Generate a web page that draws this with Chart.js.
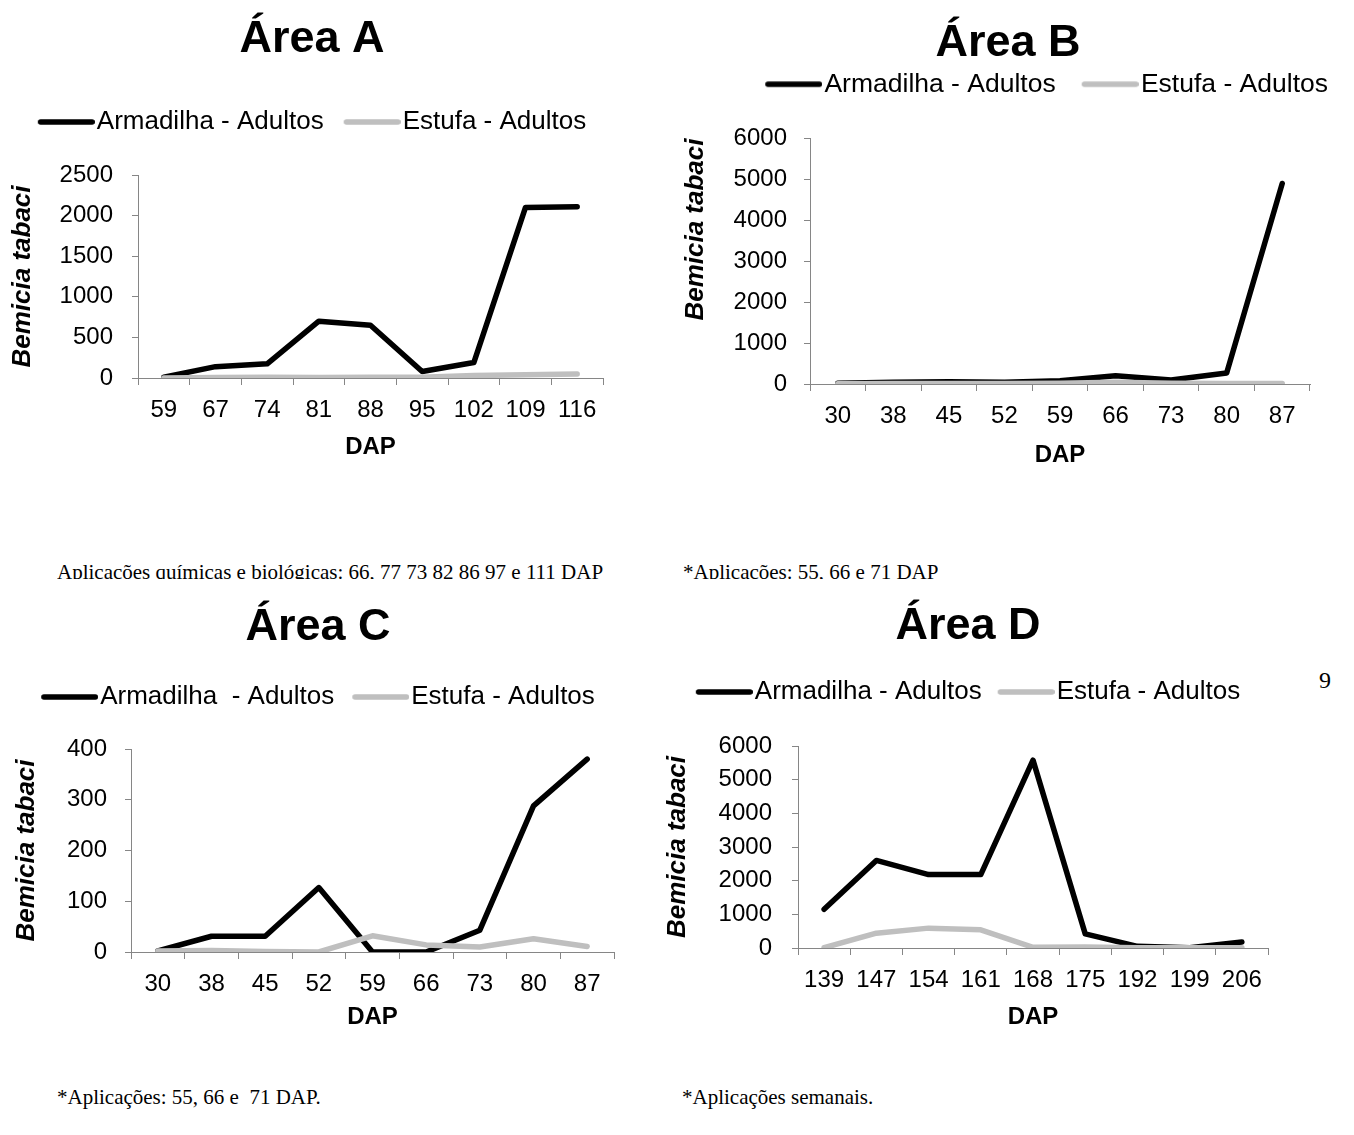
<!DOCTYPE html>
<html><head><meta charset="utf-8">
<script src="https://cdn.jsdelivr.net/npm/chart.js@4.4.1/dist/chart.umd.min.js"></script>
<style>
html,body{margin:0;padding:0;background:#fff;}
body{width:1354px;height:1135px;overflow:hidden;position:relative;}
canvas{position:absolute;}
.note{position:absolute;font-family:"Liberation Serif","Times New Roman",serif;font-size:21px;line-height:24px;color:#000;white-space:pre;}
.clip{overflow:hidden;}
</style></head><body>
<canvas id="cA" width="624" height="470" style="left:0px;top:0px"></canvas>
<canvas id="cB" width="692" height="480" style="left:662px;top:0px"></canvas>
<canvas id="cC" width="636" height="470" style="left:0px;top:580px"></canvas>
<canvas id="cD" width="612" height="470" style="left:662px;top:580px"></canvas>
<div class="note clip" style="left:57px;top:560px;height:19px">Aplicações químicas e biológicas: 66, 77 73 82 86 97 e 111 DAP</div>
<div class="note clip" style="left:683px;top:560px;height:19px">*Aplicações: 55, 66 e 71 DAP</div>
<div class="note" style="left:57px;top:1085px">*Aplicações: 55, 66 e  71 DAP.</div>
<div class="note" style="left:682px;top:1085px">*Aplicações semanais.</div>
<div class="note" style="left:1319px;top:666px;font-size:24px;line-height:28px">9</div>
<script>
// ---- data ----
const titles = ['Área A', 'Área B', 'Área C', 'Área D'];
const seriesArm = 'Armadilha - Adultos';
const seriesArmC = 'Armadilha  - Adultos';
const seriesEst = 'Estufa - Adultos';
const xTitle = 'DAP';
const yTitle = 'Bemicia tabaci';

const catsA = ['59', '67', '74', '81', '88', '95', '102', '109', '116'];
const armA = [10, 140, 175, 700, 650, 80, 190, 2100, 2110];
const estA = [0, 5, 10, 5, 10, 10, 30, 40, 50];

const catsB = ['30', '38', '45', '52', '59', '66', '73', '80', '87'];
const armB = [20, 40, 55, 40, 80, 200, 100, 270, 4900];
const estB = [5, 10, 15, 10, 20, 40, 20, 15, 10];

const catsC = ['30', '38', '45', '52', '59', '66', '73', '80', '87'];
const armC = [2, 31, 31, 127, 0, 0, 43, 288, 380];
const estC = [2, 3, 1, 0, 32, 14, 10, 26, 11];

const catsD = ['139', '147', '154', '161', '168', '175', '192', '199', '206'];
const armD = [1150, 2600, 2180, 2180, 5580, 420, 50, 10, 180];
const estD = [10, 440, 590, 540, 20, 30, 10, 5, 10];

const yMaxA = 2500, yStepA = 500;
const yMaxB = 6000, yStepB = 1000;
const yMaxC = 400, yStepC = 100;
const yMaxD = 6000, yStepD = 1000;

// ---- styling ----
const F = '"Liberation Sans", Arial, sans-serif';
const AX = '#868686';
const BLACK = '#000000';
const GRAY = '#BFBFBF';

function legendLine(color) {
  const c = document.createElement('canvas');
  c.width = 68; c.height = 10;
  const g = c.getContext('2d');
  g.strokeStyle = color; g.lineWidth = 5.5; g.lineCap = 'round';
  g.beginPath(); g.moveTo(13.75, 5); g.lineTo(65.25, 5); g.stroke();
  return c;
}

function makeChart(id, p) {
  return new Chart(document.getElementById(id), {
    type: 'line',
    data: {
      labels: p.cats,
      datasets: [
        {label: p.names[0], data: p.arm, borderColor: BLACK, backgroundColor: BLACK, borderWidth: 5.5,
         pointRadius: 0, tension: 0, borderJoinStyle: 'round', borderCapStyle: 'round', order: 2},
        {label: p.names[1], data: p.est, borderColor: GRAY, backgroundColor: GRAY, borderWidth: 5.5,
         pointRadius: 0, tension: 0, borderJoinStyle: 'round', borderCapStyle: 'round', order: 1}
      ]
    },
    options: {
      responsive: false, animation: false, devicePixelRatio: 1,
      layout: {padding: 0},
      plugins: {
        tooltip: {enabled: false},
        title: {display: true, text: p.title, color: '#000',
          font: {family: F, size: 45, weight: 'bold', lineHeight: 1.2},
          padding: {top: p.tTop, bottom: p.tBot}},
        legend: {display: true, position: 'top', align: p.legAlign,
          labels: {usePointStyle: true, pointStyleWidth: 46, padding: p.legPad, color: '#000',
            font: {family: F, size: p.legFont || 26},
            generateLabels: (chart) => chart.data.datasets.map((ds, i) => ({
              text: ds.label, datasetIndex: i, hidden: false, fontColor: '#000',
              fillStyle: ds.borderColor, strokeStyle: ds.borderColor, lineWidth: 0,
              pointStyle: legendLine(ds.borderColor)
            }))
          }
        }
      },
      scales: {
        x: {type: 'category', offset: true,
          grid: {display: true, offset: true, drawOnChartArea: false, drawTicks: true, tickLength: 7, color: AX, lineWidth: 1},
          border: {display: true, color: AX, width: 1},
          ticks: {color: '#000', font: {family: F, size: 24}, padding: 11, maxRotation: 0, autoSkip: false},
          title: {display: true, text: xTitle, color: '#000', font: {family: F, size: 24, weight: 'bold'},
            padding: {top: 0, bottom: p.xTitlePad}},
          afterFit: (s) => { s.height = p.xH; }
        },
        y: {type: 'linear', min: 0, max: p.yMax,
          ticks: {stepSize: p.yStep, color: '#000', font: {family: F, size: 24}, padding: p.yTickPad,
            callback: (v) => String(v)},
          grid: {display: true, drawOnChartArea: false, drawTicks: true, tickLength: 6, color: AX},
          border: {display: true, color: AX, width: 1},
          title: {display: true, text: yTitle, align: p.yAlign, color: '#000',
            font: {family: F, size: 26, weight: 'bold', style: 'italic'},
            padding: {top: p.yTitlePad, bottom: 0}},
          afterFit: (s) => { s.width = p.yW; }
        },
        xt: {type: 'category', position: 'top', labels: p.cats, display: true,
          grid: {display: false}, border: {display: false}, ticks: {display: false},
          afterFit: (s) => { s.height = p.xtH; }
        },
        yr: {type: 'linear', position: 'right', display: true,
          grid: {display: false}, border: {display: false}, ticks: {display: false},
          afterFit: (s) => { s.width = p.yrW; }
        }
      }
    }
  });
}

makeChart('cA', {title: titles[0], names: [seriesArm, seriesEst], cats: catsA, arm: armA, est: estA,
  yMax: yMaxA, yStep: yStepA, tTop: 13, tBot: 22, legPad: 20, legAlign: 'center', xtH: 30,
  yW: 138, yrW: 21, xH: 92, xTitlePad: 8.6, yTitlePad: 7.4, yTickPad: 19, yAlign: 'center'});

makeChart('cB', {title: titles[1], names: [seriesArm, seriesEst], cats: catsB, arm: armB, est: estB,
  yMax: yMaxB, yStep: yStepB, tTop: 17, tBot: -26, legPad: 26, legFont: 26.5, legAlign: 'end', xtH: 31,
  yW: 148, yrW: 44, xH: 96, xTitlePad: 10.6, yTitlePad: 18.4, yTickPad: 17, yAlign: 'end'});

makeChart('cC', {title: titles[2], names: [seriesArmC, seriesEst], cats: catsC, arm: armC, est: estC,
  yMax: yMaxC, yStep: yStepC, tTop: 21, tBot: 11, legPad: 18, legAlign: 'center', xtH: 29,
  yW: 131, yrW: 22, xH: 98, xTitlePad: 18.6, yTitlePad: 11.4, yTickPad: 18, yAlign: 'center'});

makeChart('cD', {title: titles[3], names: [seriesArm, seriesEst], cats: catsD, arm: armD, est: estD,
  yMax: yMaxD, yStep: yStepD, tTop: 20, tBot: 9, legPad: 16, legAlign: 'center', xtH: 31,
  yW: 136, yrW: 6, xH: 102, xTitlePad: 18.6, yTitlePad: 0, yTickPad: 20, yAlign: 'center'});
</script>
</body></html>
